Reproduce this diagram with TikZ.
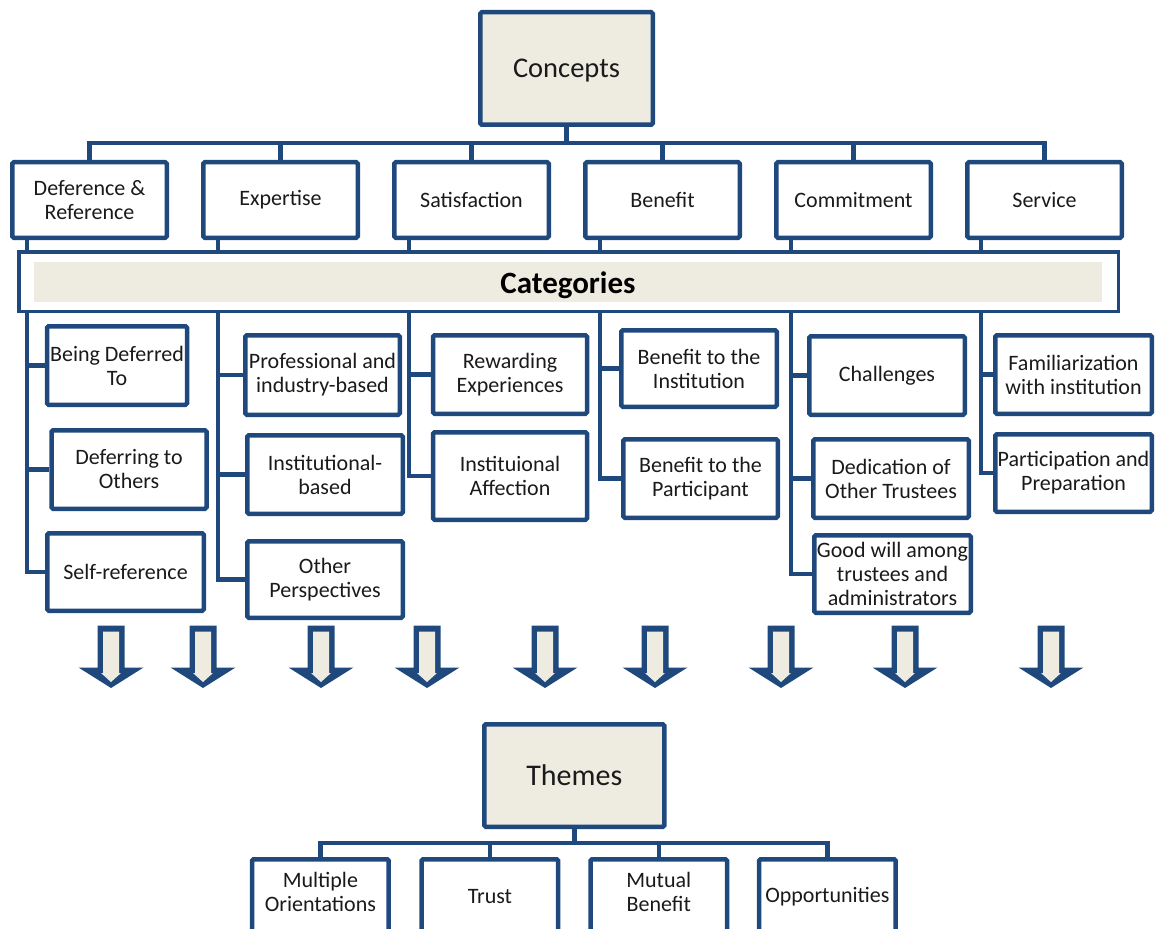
\documentclass[tikz,border=0pt]{standalone}
\usepackage{fontspec}
\setmainfont{Carlito}
\usetikzlibrary{calc}
\definecolor{dblue}{HTML}{1F497D}
\definecolor{beige}{HTML}{EEECE1}
\definecolor{txt}{HTML}{1A1A1A}
\pgfdeclarelayer{bg}
\pgfsetlayers{bg,main}
\newcommand{\shiftup}[2]{\raisebox{#1}[\height][\depth]{#2}}
\tikzset{
  box/.style={draw=dblue,line width=4.5pt,fill=white,rounded corners=1.5pt,
    align=center,inner sep=1pt,text=txt,font=\fontsize{22}{24}\selectfont},
  cbox/.style={box,minimum width=154.5pt,minimum height=75.5pt},
  tbox/.style={box,minimum width=136.5pt,minimum height=79pt},
  conn/.style={draw=dblue,line width=4.5pt},
  darrow/.pic={
    \fill[dblue] (-13.5,0) -- (13.5,0) -- (13.5,42) -- (32.5,42) -- (0,62.5)
      -- (-32.5,42) -- (-13.5,42) -- cycle;
    \fill[beige] (-8,6) -- (8,6) -- (8,47.5) -- (10,47.5) -- (0,56.5)
      -- (-10,47.5) -- (-8,47.5) -- cycle;
  }
}
\begin{document}
\begin{tikzpicture}[x=1pt,y=-1pt]
\useasboundingbox (0,0) rectangle (1155,928);
\clip (0,0) rectangle (1155,928);

% Concepts
\node[box,minimum width=172.5pt,minimum height=112.5pt,fill=beige,
  font=\fontsize{28.5}{32}\selectfont] (concepts) at (566.5,68.5) {\shiftup{-2pt}{Concepts}};
\node[cbox] (dr) at (89.5,200) {Deference \&\\Reference};
\node[cbox] (ex) at (280.5,200) {Expertise};
\node[cbox] (sa) at (471.5,200) {Satisfaction};
\node[cbox] (be) at (662.5,200) {Benefit};
\node[cbox] (co) at (853.5,200) {Commitment};
\node[cbox] (se) at (1044.5,200) {Service};

% Categories bar
\node[draw=dblue,line width=3.5pt,fill=white,minimum width=1099.5pt,
  minimum height=59.5pt,inner sep=0pt] (catbar) at (568.5,281.5) {};
\node[fill=beige,minimum width=1068pt,minimum height=40pt,inner sep=0pt,
  text=black,font=\fontsize{31}{34}\selectfont\bfseries] (cat) at (568,282) {\shiftup{-3pt}{Categories}};

% Category children
\node[box,minimum width=140pt,minimum height=78.5pt] (bdt) at (117,365.5) {Being Deferred\\To};
\node[box,minimum width=155pt,minimum height=78.5pt] (dto) at (129,469.5) {Deferring to\\Others};
\node[box,minimum width=156.5pt,minimum height=77.5pt] (sr) at (125.5,572) {Self-reference};
\node[box,minimum width=154.5pt,minimum height=79.5pt] (pib) at (322.5,375) {Professional and\\industry-based};
\node[box,minimum width=155.5pt,minimum height=78.5pt] (ib) at (325,474.5) {Institutional-\\based};
\node[box,minimum width=155.5pt,minimum height=76.5pt] (op) at (325,579.5) {Other\\Perspectives};
\node[box,minimum width=154pt,minimum height=78.5pt] (re) at (510,374.5) {Rewarding\\Experiences};
\node[box,minimum width=154pt,minimum height=87.5pt] (ia) at (510,476) {Instituional\\Affection};
\node[box,minimum width=155.5pt,minimum height=76.5pt] (bti) at (699,368.5) {Benefit to the\\Institution};
\node[box,minimum width=154.5pt,minimum height=78.5pt] (btp) at (700.5,478.5) {Benefit to the\\Participant};
\node[box,minimum width=155.5pt,minimum height=78.5pt] (ch) at (887,375.5) {Challenges};
\node[box,minimum width=155.5pt,minimum height=78.5pt] (dot) at (891,478.5) {Dedication of\\Other Trustees};
\node[box,minimum width=156.5pt,minimum height=77.5pt] (gw) at (892.5,574) {Good will among\\trustees and\\administrators};
\node[box,minimum width=156.5pt,minimum height=78.5pt] (fwi) at (1073.5,374.5) {Familiarization\\with institution};
\node[box,minimum width=156.5pt,minimum height=77.5pt] (pp) at (1073.5,473) {Participation and\\Preparation};

% Arrows
\foreach \ax in {111,203,321,427,545,655,781,905,1051}
  \pic at (\ax,625.5) {darrow};

% Themes
\node[box,minimum width=180pt,minimum height=102.5pt,fill=beige,
  font=\fontsize{30}{34}\selectfont] (themes) at (574.3,775.5) {Themes};
\node[tbox] (mo) at (320.4,898.75) {\shiftup{4pt}{\begin{tabular}{@{}c@{}}Multiple\\Orientations\end{tabular}}};
\node[tbox] (tr) at (489.9,898.75) {\shiftup{2pt}{Trust}};
\node[tbox] (mb) at (658.8,898.75) {\shiftup{4pt}{\begin{tabular}{@{}c@{}}Mutual\\Benefit\end{tabular}}};
\node[tbox] (opp) at (827.4,898.75) {\shiftup{2pt}{Opportunities}};

% Connectors
\begin{pgfonlayer}{bg}
  \coordinate (tb) at (0,143);
  \foreach \n in {dr,ex,sa,be,co,se}
    \draw[conn] (concepts.south) -- (concepts.south |- tb) -| (\n.north);
  \foreach \p/\c in {dr/bdt,dr/dto,dr/sr,ex/pib,ex/ib,ex/op,sa/re,sa/ia,
                     be/bti,be/btp,co/ch,co/dot,co/gw}
    \draw[conn] ([xshift=-62.5pt]\p.south) |- (\c.west);
  \foreach \c in {fwi,pp}
    \draw[conn] ([xshift=-63.5pt]se.south) |- (\c.west);
  \coordinate (thb) at (0,843);
  \foreach \n in {mo,tr,mb,opp}
    \draw[conn] (themes.south) -- (themes.south |- thb) -| (\n.north);
\end{pgfonlayer}
\end{tikzpicture}
\end{document}
